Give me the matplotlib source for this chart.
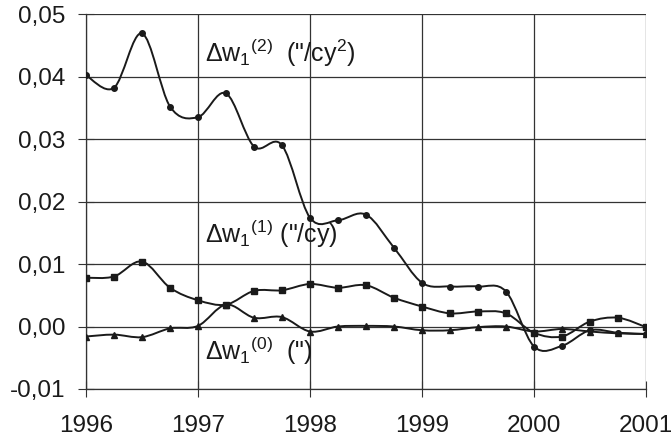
import numpy as np
import matplotlib
matplotlib.use("Agg")
import matplotlib.pyplot as plt
from matplotlib.path import Path
from matplotlib.patches import PathPatch

plt.rcParams['font.family'] = ['Liberation Sans', 'DejaVu Sans']
plt.rcParams['mathtext.fontset'] = 'custom'
plt.rcParams['mathtext.rm'] = 'Liberation Sans'
plt.rcParams['mathtext.it'] = 'Liberation Sans'

years = [1996 + 0.25 * i for i in range(21)]

dw2 = [0.0402, 0.0382, 0.0469, 0.0352, 0.0335, 0.0373, 0.0288, 0.0290,
       0.0174, 0.0170, 0.0179, 0.0126, 0.0070, 0.0064, 0.0064, 0.0056,
       -0.0032, -0.0031, -0.0006, -0.0010, -0.0012]
dw1 = [0.0078, 0.0080, 0.0104, 0.0062, 0.0042, 0.0035, 0.0057, 0.0058,
       0.0068, 0.0062, 0.0066, 0.0046, 0.0032, 0.0021, 0.0024, 0.0021,
       -0.0010, -0.0016, 0.0008, 0.0014, -0.0001]
dw0 = [-0.0016, -0.0013, -0.0017, -0.0003, 0.0001, 0.0035, 0.0014, 0.0015,
       -0.0008, 0.0000, 0.0001, 0.0000, -0.0006, -0.0006, -0.0001, 0.0000,
       -0.0008, -0.0004, -0.0008, -0.0011, -0.0012]

xticks = [1996, 1997, 1998, 1999, 2000, 2001]
xticklabels = ['1996', '1997', '1998', '1999', '2000', '2001']
yticks = [-0.01, 0.0, 0.01, 0.02, 0.03, 0.04, 0.05]
yticklabels = ['-0,01', '0,00', '0,01', '0,02', '0,03', '0,04', '0,05']

labels = [r'$\mathregular{\Delta w_1{}^{(2)}}$  ("/cy$\mathregular{^2}$)',
          r'$\mathregular{\Delta w_1{}^{(1)}}$ ("/cy)',
          r'$\mathregular{\Delta w_1{}^{(0)}}$  (")']
label_pos = [(1997.06, 0.0424), (1997.06, 0.0134), (1997.06, -0.0053)]


def smooth_path(x, y):
    x = np.asarray(x, float)
    y = np.asarray(y, float)
    pts = np.column_stack([x, y])
    n = len(pts)
    verts = [pts[0]]
    codes = [Path.MOVETO]
    for i in range(n - 1):
        p0 = pts[i - 1] if i > 0 else pts[i]
        p1 = pts[i]
        p2 = pts[i + 1]
        p3 = pts[i + 2] if i + 2 < n else pts[i + 1]
        c1 = p1 + (p2 - p0) / 6.0
        c2 = p2 - (p3 - p1) / 6.0
        verts += [c1, c2, p2]
        codes += [Path.CURVE4] * 3
    return Path(verts, codes)


fig = plt.figure(figsize=(6.71, 4.43), dpi=100)
ax = fig.add_axes([86 / 671, 1 - 389 / 443, (646 - 86) / 671, (389 - 14) / 443])

for ys, mk, ms in [(dw2, 'o', 4), (dw1, 's', 5), (dw0, '^', 5)]:
    ax.add_patch(PathPatch(smooth_path(years, ys), fill=False,
                           edgecolor='#1a1a1a', lw=1.4, zorder=3))
    ax.plot(years, ys, linestyle='none', marker=mk, ms=ms,
            color='#1a1a1a', zorder=4)

for (tx, ty), lab in zip(label_pos, labels):
    ax.text(tx, ty, lab, fontsize=18, va='baseline', ha='left', color='#1a1a1a',
            zorder=5)

ax.set_xlim(1996, 2001)
ax.set_ylim(-0.01, 0.05)
ax.set_xticks(xticks)
ax.set_xticklabels(xticklabels)
ax.set_yticks(yticks)
ax.set_yticklabels(yticklabels)
ax.tick_params(direction='inout', length=11, width=0.8, labelsize=17.5,
               color='#333333', labelcolor='#1a1a1a')
ax.tick_params(axis='x', pad=13)
ax.tick_params(axis='y', pad=9)
ax.grid(True, color='#333333', lw=0.9)
ax.set_axisbelow(True)
for s in ['top', 'right']:
    ax.spines[s].set_visible(False)
for s in ['left', 'bottom']:
    ax.spines[s].set_color('#333333')
    ax.spines[s].set_linewidth(0.9)

fig.savefig('out.png', dpi=100, facecolor='white')
